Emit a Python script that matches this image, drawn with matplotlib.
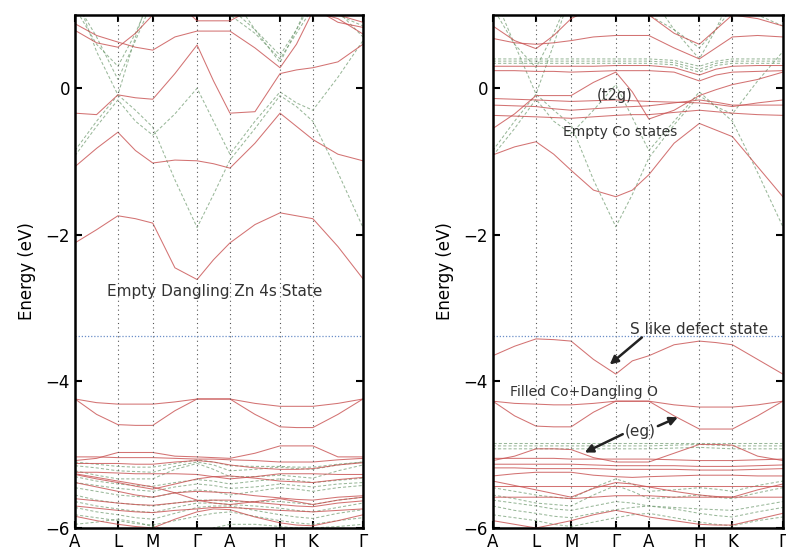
import matplotlib
matplotlib.use("Agg")
import matplotlib.pyplot as plt

# k path (fraction of path length) and labels
kgrid = [0, 0.075, 0.149, 0.21, 0.27, 0.347, 0.424, 0.481, 0.538, 0.625, 0.712, 0.769, 0.826, 0.913, 1.0]
kticks = [0, 0.149, 0.27, 0.424, 0.538, 0.712, 0.826, 1.0]
klabels = ["A", "L", "M", "Γ", "A", "H", "K", "Γ"]
e_ref = -3.38

# ---- left panel (ZnO with Zn dangling) ----
left_red = [
    [-2.11, -1.93, -1.74, -1.78, -1.84, -2.45, -2.61, -2.34, -2.11, -1.86, -1.70, -1.74, -1.78, -2.16, -2.60],
    [-1.07, -0.82, -0.60, -0.85, -1.02, -0.98, -0.99, -1.03, -1.09, -0.75, -0.34, -0.52, -0.70, -0.90, -0.99],
    [-0.34, -0.36, -0.09, -0.13, -0.15, 0.20, 0.59, 0.10, -0.34, -0.32, 0.20, 0.25, 0.28, 0.36, 0.60],
    [0.88, 0.72, 0.63, 0.56, 0.52, 0.70, 0.78, 0.78, 0.78, 0.55, 0.28, 0.60, 1.05, 0.95, 0.74],
    [0.79, 0.62, 0.56, 0.75, 1.00, 1.30, 1.50, 1.30, 1.20, 1.20, 1.30, 1.20, 1.10, 0.90, 0.83],
    [1.30, 1.10, 1.00, 1.10, 1.30, 1.20, 0.92, 0.92, 0.92, 1.10, 1.30, 1.30, 1.20, 1.00, 0.90],
    [-4.24, -4.29, -4.31, -4.31, -4.31, -4.28, -4.24, -4.24, -4.24, -4.30, -4.34, -4.34, -4.34, -4.30, -4.24],
    [-4.24, -4.45, -4.59, -4.60, -4.60, -4.40, -4.24, -4.24, -4.24, -4.45, -4.62, -4.63, -4.63, -4.45, -4.24],
    [-5.08, -5.05, -4.97, -4.97, -4.97, -5.02, -5.03, -5.04, -5.05, -4.98, -4.88, -4.88, -4.88, -5.03, -5.03],
    [-5.03, -5.03, -5.04, -5.04, -5.04, -5.05, -5.06, -5.06, -5.07, -5.08, -5.10, -5.10, -5.10, -5.07, -5.05],
    [-5.12, -5.12, -5.12, -5.13, -5.13, -5.10, -5.08, -5.10, -5.14, -5.18, -5.20, -5.20, -5.19, -5.14, -5.11],
    [-5.24, -5.24, -5.25, -5.26, -5.26, -5.26, -5.27, -5.30, -5.33, -5.30, -5.26, -5.26, -5.26, -5.27, -5.27],
    [-5.27, -5.33, -5.38, -5.43, -5.47, -5.40, -5.33, -5.30, -5.29, -5.32, -5.36, -5.37, -5.38, -5.34, -5.31],
    [-5.38, -5.44, -5.50, -5.55, -5.58, -5.52, -5.50, -5.51, -5.52, -5.56, -5.59, -5.61, -5.62, -5.58, -5.56],
    [-5.70, -5.73, -5.76, -5.78, -5.79, -5.76, -5.74, -5.72, -5.72, -5.74, -5.76, -5.77, -5.78, -5.76, -5.74],
    [-5.84, -5.90, -5.95, -5.98, -6.00, -5.88, -5.78, -5.74, -5.75, -5.85, -5.93, -5.96, -5.97, -5.90, -5.82],
    [-5.26, -5.31, -5.36, -5.40, -5.44, -5.52, -5.62, -5.66, -5.68, -5.64, -5.60, -5.64, -5.68, -5.62, -5.58],
    [-5.60, -5.63, -5.66, -5.68, -5.69, -5.66, -5.63, -5.62, -5.62, -5.65, -5.68, -5.70, -5.71, -5.66, -5.63],
]
left_green = [
    [1.30, 0.50, -0.09, -0.30, -0.53, -1.25, -1.90, -1.45, -0.98, -0.55, -0.10, -0.25, -0.45, -1.15, -1.90],
    [-0.85, -0.45, -0.09, 0.70, 1.40, 1.60, 1.80, 1.60, 1.30, 0.80, 0.45, 0.80, 1.30, 1.30, 1.10],
    [-0.92, -0.52, -0.16, -0.45, -0.64, -0.35, 0.00, -0.45, -0.90, -0.45, -0.05, -0.20, -0.30, 0.15, 0.65],
    [1.10, 0.60, 0.30, 0.75, 1.30, 1.40, 1.40, 1.20, 1.00, 0.75, 0.40, 0.75, 1.10, 1.00, 0.85],
    [1.20, 0.70, 0.12, 0.65, 1.20, 1.40, 1.40, 1.30, 1.10, 0.80, 0.35, 0.80, 1.20, 1.05, 0.70],
    [-5.15, -5.18, -5.22, -5.23, -5.24, -5.16, -5.10, -5.14, -5.22, -5.20, -5.17, -5.19, -5.20, -5.14, -5.10],
    [-5.22, -5.28, -5.33, -5.33, -5.33, -5.20, -5.12, -5.20, -5.30, -5.30, -5.28, -5.30, -5.32, -5.22, -5.14],
    [-5.30, -5.36, -5.40, -5.42, -5.43, -5.38, -5.34, -5.36, -5.40, -5.36, -5.33, -5.35, -5.38, -5.35, -5.32],
    [-5.45, -5.50, -5.55, -5.57, -5.58, -5.52, -5.48, -5.50, -5.55, -5.50, -5.45, -5.47, -5.50, -5.45, -5.42],
    [-5.55, -5.62, -5.66, -5.68, -5.70, -5.66, -5.62, -5.62, -5.64, -5.64, -5.64, -5.66, -5.68, -5.62, -5.58],
    [-5.72, -5.78, -5.82, -5.86, -5.88, -5.80, -5.72, -5.70, -5.70, -5.76, -5.82, -5.85, -5.87, -5.80, -5.75],
    [-5.82, -5.86, -5.90, -5.94, -5.96, -5.90, -5.84, -5.80, -5.78, -5.84, -5.90, -5.93, -5.95, -5.90, -5.86],
    [-5.95, -5.92, -5.88, -5.92, -5.98, -6.05, -6.10, -6.00, -5.95, -5.95, -5.98, -6.00, -6.00, -5.98, -5.95],
    [-5.10, -5.13, -5.16, -5.17, -5.17, -5.12, -5.07, -5.10, -5.15, -5.16, -5.16, -5.17, -5.17, -5.13, -5.10],
    [-5.38, -5.42, -5.46, -5.48, -5.50, -5.44, -5.40, -5.42, -5.46, -5.44, -5.40, -5.42, -5.44, -5.40, -5.38],
    [-5.64, -5.70, -5.74, -5.77, -5.79, -5.72, -5.66, -5.66, -5.68, -5.70, -5.73, -5.76, -5.78, -5.72, -5.66],
]

# ---- right panel (Co doped) ----
right_red = [
    [-0.91, -0.80, -0.73, -0.90, -1.12, -1.39, -1.48, -1.39, -1.18, -0.75, -0.48, -0.57, -0.66, -1.07, -1.48],
    [-0.14, -0.15, -0.16, -0.17, -0.18, -0.17, -0.16, -0.17, -0.18, -0.19, -0.20, -0.22, -0.25, -0.20, -0.16],
    [-0.23, -0.24, -0.25, -0.28, -0.30, -0.28, -0.26, -0.25, -0.24, -0.20, -0.16, -0.19, -0.23, -0.23, -0.23],
    [-0.37, -0.38, -0.39, -0.40, -0.41, -0.39, -0.37, -0.36, -0.36, -0.33, -0.30, -0.32, -0.34, -0.36, -0.37],
    [-0.55, -0.35, -0.10, -0.10, -0.10, 0.08, 0.22, -0.05, -0.42, -0.30, -0.10, -0.02, 0.05, 0.12, 0.22],
    [0.30, 0.30, 0.30, 0.30, 0.30, 0.30, 0.31, 0.31, 0.31, 0.28, 0.18, 0.26, 0.30, 0.31, 0.31],
    [0.24, 0.24, 0.23, 0.23, 0.22, 0.23, 0.24, 0.24, 0.24, 0.22, 0.10, 0.18, 0.22, 0.23, 0.24],
    [0.85, 0.65, 0.54, 0.72, 0.95, 1.10, 1.20, 1.10, 1.00, 0.75, 0.60, 0.80, 1.00, 0.95, 0.85],
    [0.68, 0.62, 0.60, 0.62, 0.65, 0.70, 0.72, 0.72, 0.72, 0.55, 0.40, 0.55, 0.70, 0.72, 0.70],
    [-3.65, -3.52, -3.42, -3.43, -3.45, -3.70, -3.90, -3.72, -3.65, -3.50, -3.45, -3.47, -3.50, -3.70, -3.90],
    [-4.27, -4.30, -4.31, -4.32, -4.32, -4.30, -4.27, -4.27, -4.27, -4.32, -4.35, -4.35, -4.35, -4.32, -4.27],
    [-4.27, -4.47, -4.61, -4.62, -4.62, -4.42, -4.27, -4.27, -4.27, -4.47, -4.65, -4.65, -4.65, -4.47, -4.27],
    [-5.08, -5.02, -4.92, -4.92, -4.93, -5.04, -5.10, -5.10, -5.10, -4.98, -4.86, -4.86, -4.87, -5.02, -5.08],
    [-5.05, -5.05, -5.05, -5.05, -5.06, -5.06, -5.06, -5.06, -5.06, -5.07, -5.08, -5.08, -5.08, -5.07, -5.06],
    [-5.13, -5.13, -5.13, -5.13, -5.13, -5.14, -5.15, -5.15, -5.15, -5.15, -5.16, -5.16, -5.16, -5.15, -5.14],
    [-5.18, -5.18, -5.19, -5.19, -5.19, -5.19, -5.20, -5.20, -5.20, -5.20, -5.21, -5.21, -5.21, -5.20, -5.19],
    [-5.29, -5.26, -5.24, -5.24, -5.24, -5.28, -5.30, -5.31, -5.30, -5.29, -5.28, -5.28, -5.28, -5.29, -5.29],
    [-5.36, -5.42, -5.48, -5.53, -5.58, -5.46, -5.38, -5.40, -5.44, -5.50, -5.55, -5.57, -5.58, -5.48, -5.40],
    [-5.43, -5.43, -5.43, -5.43, -5.43, -5.43, -5.43, -5.43, -5.43, -5.43, -5.43, -5.43, -5.43, -5.43, -5.43],
    [-5.58, -5.58, -5.58, -5.58, -5.60, -5.58, -5.56, -5.56, -5.56, -5.58, -5.58, -5.58, -5.58, -5.58, -5.58],
    [-5.90, -5.95, -6.00, -5.95, -5.90, -5.82, -5.76, -5.80, -5.85, -5.90, -5.95, -5.96, -5.96, -5.88, -5.80],
]
right_green = [
    [1.30, 0.60, -0.08, -0.30, -0.50, -1.25, -1.89, -1.45, -0.95, -0.50, -0.10, -0.25, -0.45, -1.15, -1.89],
    [-0.85, -0.45, -0.08, 0.60, 1.30, 1.60, 1.80, 1.60, 1.30, 0.80, 0.40, 0.80, 1.30, 1.30, 1.10],
    [-0.92, -0.55, -0.15, -0.45, -0.62, -0.30, 0.05, -0.40, -0.85, -0.45, -0.05, -0.25, -0.35, 0.10, 0.50],
    [1.10, 0.60, 0.28, 0.75, 1.30, 1.40, 1.40, 1.20, 1.00, 0.80, 0.55, 0.80, 1.10, 1.00, 0.85],
    [0.40, 0.40, 0.40, 0.40, 0.40, 0.40, 0.40, 0.40, 0.40, 0.38, 0.30, 0.37, 0.40, 0.40, 0.40],
    [0.37, 0.37, 0.37, 0.37, 0.37, 0.37, 0.37, 0.37, 0.37, 0.35, 0.26, 0.34, 0.37, 0.37, 0.37],
    [0.34, 0.34, 0.34, 0.34, 0.34, 0.34, 0.34, 0.34, 0.34, 0.32, 0.22, 0.31, 0.34, 0.34, 0.34],
    [-4.84, -4.84, -4.84, -4.84, -4.84, -4.84, -4.84, -4.84, -4.84, -4.84, -4.84, -4.84, -4.84, -4.84, -4.84],
    [-4.88, -4.88, -4.88, -4.88, -4.88, -4.88, -4.88, -4.88, -4.88, -4.87, -4.86, -4.87, -4.88, -4.88, -4.88],
    [-4.92, -4.92, -4.92, -4.92, -4.92, -4.92, -4.92, -4.92, -4.92, -4.91, -4.90, -4.91, -4.92, -4.92, -4.92],
    [-5.45, -5.50, -5.55, -5.58, -5.60, -5.45, -5.33, -5.40, -5.50, -5.48, -5.45, -5.47, -5.50, -5.42, -5.36],
    [-5.55, -5.60, -5.66, -5.68, -5.70, -5.55, -5.42, -5.50, -5.60, -5.58, -5.55, -5.58, -5.60, -5.52, -5.45],
    [-5.70, -5.76, -5.80, -5.84, -5.86, -5.80, -5.75, -5.72, -5.70, -5.74, -5.80, -5.83, -5.85, -5.78, -5.72],
    [-5.82, -5.86, -5.90, -5.95, -5.98, -5.92, -5.86, -5.82, -5.80, -5.86, -5.92, -5.95, -5.97, -5.90, -5.85],
    [-5.62, -5.66, -5.70, -5.74, -5.76, -5.70, -5.64, -5.66, -5.70, -5.72, -5.74, -5.75, -5.76, -5.70, -5.64],
]

RED = "#c85050"
GREEN = "#6f9a6f"


def draw_panel(ax, reds, greens):
    for b in greens:
        ax.plot(kgrid, b, color=GREEN, lw=0.75, ls=(0, (3, 2)), alpha=0.7)
    for b in reds:
        ax.plot(kgrid, b, color=RED, lw=0.75, alpha=0.8)
    for k in kticks[1:-1]:
        ax.axvline(k, color="#555555", lw=0.8, ls=(0, (1, 3)))
    ax.axhline(e_ref, color="#6b8fc8", lw=0.9, ls=(0, (1, 1.5)))
    ax.set_xlim(0, 1)
    ax.set_ylim(-6, 1)
    ax.set_xticks(kticks)
    ax.set_xticklabels(klabels, fontsize=13)
    ax.set_yticks([-6, -4, -2, 0])
    ax.tick_params(direction="in", length=5, width=1.5, top=True, right=True, labelsize=12)
    ax.set_ylabel("Energy (eV)", fontsize=12, labelpad=7)
    for s in ax.spines.values():
        s.set_linewidth(1.8)


fig = plt.figure(figsize=(7.86, 5.56), dpi=100)
ax1 = fig.add_axes([0.0954, 0.0504, 0.3664, 0.9227])
ax2 = fig.add_axes([0.627, 0.0504, 0.369, 0.9227])

draw_panel(ax1, left_red, left_green)
draw_panel(ax2, right_red, right_green)

ax1.text(0.486, -2.78, "Empty Dangling Zn 4s State", ha="center", va="center", fontsize=11, color="#333333")

ax2.text(0.42, -0.1, "(t2g)", ha="center", va="center", fontsize=10.5, color="#333333")
ax2.text(0.438, -0.6, "Empty Co states", ha="center", va="center", fontsize=10, color="#333333")
ax2.text(0.71, -3.29, "S like defect state", ha="center", va="center", fontsize=11, color="#333333")
ax2.text(0.314, -4.15, "Filled Co+Dangling O", ha="center", va="center", fontsize=10, color="#333333")
ax2.text(0.507, -4.69, "(eg)", ha="center", va="center", fontsize=11, color="#333333")

arrow = dict(arrowstyle="-|>", color="#222222", lw=1.8, mutation_scale=12, shrinkA=0, shrinkB=0)
ax2.annotate("", xy=(0.403, -3.77), xytext=(0.514, -3.40), arrowprops=arrow)
ax2.annotate("", xy=(0.317, -4.97), xytext=(0.448, -4.72), arrowprops=arrow)
ax2.annotate("", xy=(0.638, -4.49), xytext=(0.569, -4.61), arrowprops=arrow)

fig.savefig("out.png", dpi=100)
